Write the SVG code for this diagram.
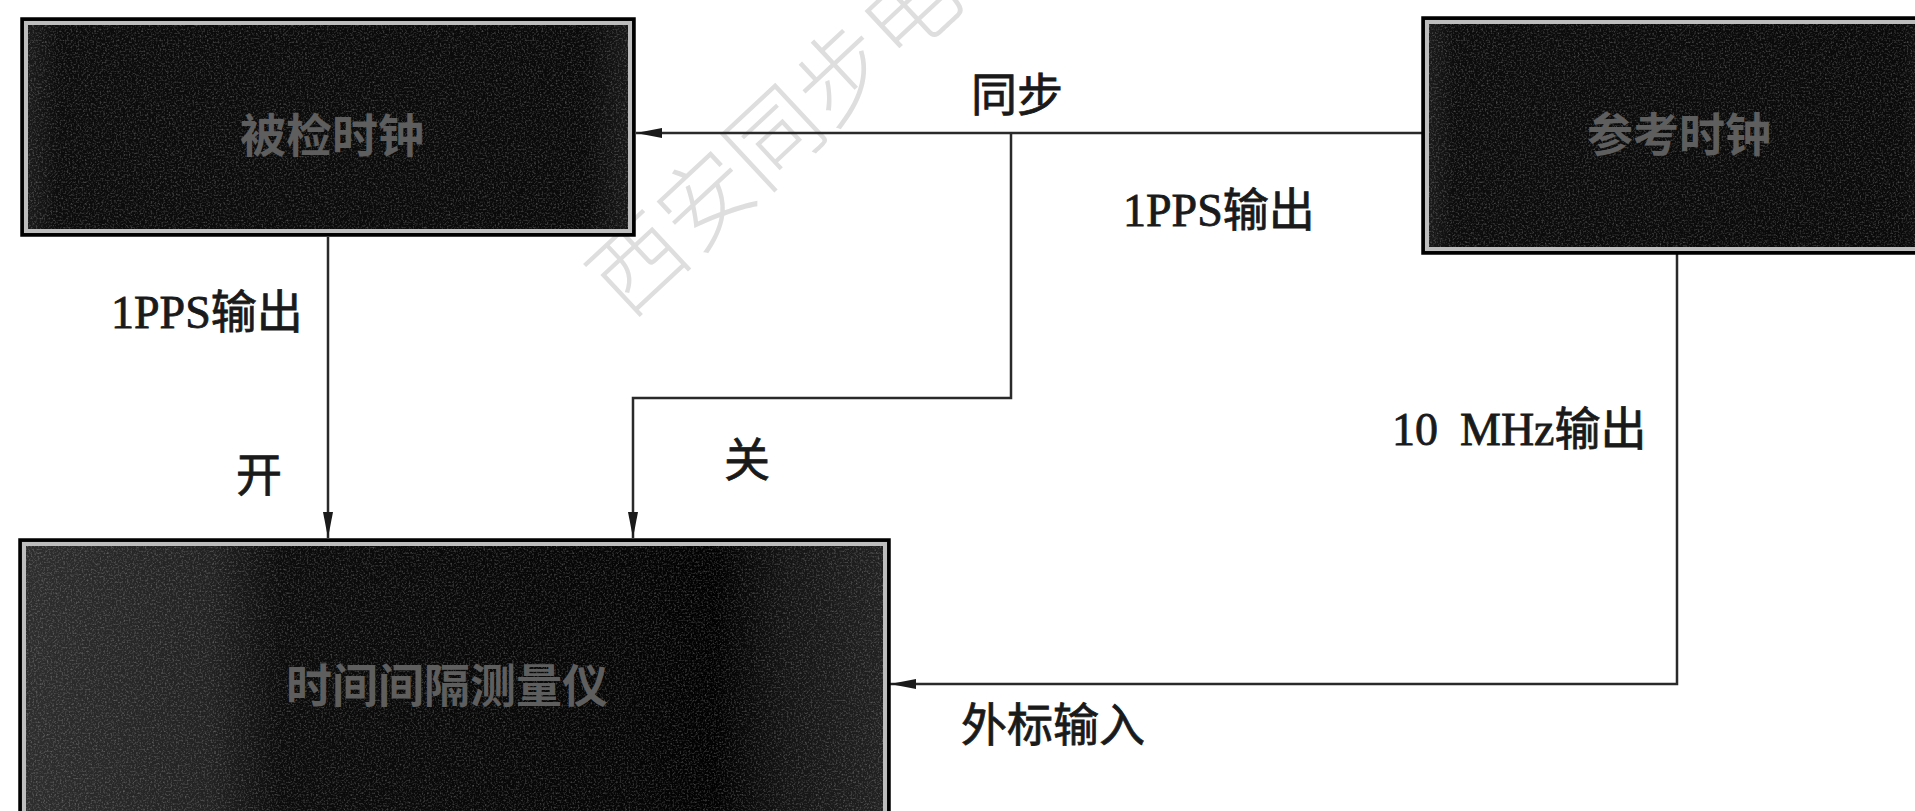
<svg xmlns="http://www.w3.org/2000/svg" width="1915" height="811" viewBox="0 0 1915 811">
<style>
.lbl{font-family:"Liberation Serif","Noto Sans CJK SC",serif;font-size:46px;fill:#1a1a1a;stroke:#1a1a1a;stroke-width:0.8}
.btxt{font-family:"Noto Sans CJK SC",sans-serif;font-size:46px;font-weight:bold;fill:#5e5e5e;text-anchor:middle;dominant-baseline:central}
.wm{font-family:"Noto Sans CJK SC",sans-serif;font-size:93px;font-weight:300;fill:#dedede}
.edge{fill:none;stroke:#2a2a2a;stroke-width:2.5}
.frame{stroke:#000;stroke-width:3.5}
.band{fill:none;stroke:#bdbdbd;stroke-width:4}
</style>
<defs>
<marker id="arr" viewBox="0 0 26 10" refX="26" refY="5" markerWidth="26" markerHeight="10" markerUnits="userSpaceOnUse" orient="auto">
<path d="M0,0 L26,5 L0,10 Z" fill="#1a1a1a"/>
</marker>
<filter id="noise" x="0" y="0" width="100%" height="100%">
<feTurbulence type="fractalNoise" baseFrequency="0.55" numOctaves="2" seed="7"/>
<feColorMatrix type="matrix" values="0 0 0 0 1 0 0 0 0 1 0 0 0 0 1 0 0 0 1.8 -0.85"/>
<feComposite in2="SourceGraphic" operator="in"/>
</filter>
<linearGradient id="g1" x1="0" y1="0" x2="1" y2="0">
<stop offset="0" stop-color="#1e1e1e"/><stop offset="0.06" stop-color="#0c0c0c"/><stop offset="0.92" stop-color="#0a0a0a"/><stop offset="1" stop-color="#1a1a1a"/>
</linearGradient>
<linearGradient id="g3" x1="0" y1="0" x2="1" y2="0">
<stop offset="0" stop-color="#2e2e2e"/><stop offset="0.22" stop-color="#222"/><stop offset="0.3" stop-color="#0c0c0c"/><stop offset="0.7" stop-color="#060606"/><stop offset="0.8" stop-color="#020202"/><stop offset="0.88" stop-color="#141414"/><stop offset="1" stop-color="#222"/>
</linearGradient>
</defs>
<rect width="1915" height="811" fill="#fff"/>
<text class="wm" transform="translate(627,320) rotate(-43)">西安同步电</text>

<g id="connectors">
<path class="edge" d="M1423,133 L636,133" marker-end="url(#arr)"/>
<path class="edge" d="M1011,133 L1011,398 L633,398 L633,538" marker-end="url(#arr)"/>
<path class="edge" d="M328,237 L328,538" marker-end="url(#arr)"/>
<path class="edge" d="M1677,253 L1677,684 L890,684" marker-end="url(#arr)"/>
</g>

<g id="node-beijian">
<rect class="frame" x="22" y="19" width="612" height="216" fill="url(#g1)"/>
<rect class="band" x="26" y="23" width="604" height="208"/>
<rect x="28" y="25" width="600" height="204" fill="#fff" filter="url(#noise)" opacity="0.35"/>
<text class="btxt" x="332" y="132">被检时钟</text>
</g>

<g id="node-cankao">
<rect class="frame" x="1423" y="18" width="520" height="235" fill="url(#g1)"/>
<rect class="band" x="1427" y="22" width="512" height="227"/>
<rect x="1429" y="24" width="490" height="223" fill="#fff" filter="url(#noise)" opacity="0.35"/>
<text class="btxt" x="1679" y="131">参考时钟</text>
</g>

<g id="node-celiang">
<rect class="frame" x="20" y="540" width="869" height="300" fill="url(#g3)"/>
<rect class="band" x="24" y="544" width="861" height="292"/>
<rect x="26" y="546" width="857" height="265" fill="#fff" filter="url(#noise)" opacity="0.35"/>
<text class="btxt" x="447" y="682">时间间隔测量仪</text>
</g>

<g id="labels">
<text class="lbl" x="971" y="111">同步</text>
<text class="lbl" x="1123" y="226">1PPS输出</text>
<text class="lbl" x="111" y="328">1PPS输出</text>
<text class="lbl" x="236" y="491">开</text>
<text class="lbl" x="724" y="476">关</text>
<text class="lbl" y="445"><tspan x="1392">10</tspan><tspan x="1460">MHz输出</tspan></text>
<text class="lbl" x="961" y="741">外标输入</text>
</g>
</svg>
